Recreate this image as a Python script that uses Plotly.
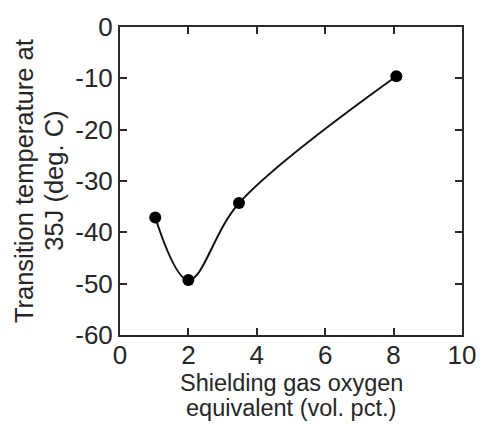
import plotly.graph_objects as go

oxygen_eq = [1.03, 2.0, 3.48, 8.08]
transition_temp = [-37.1, -49.3, -34.3, -9.6]
x_ticks = [0, 2, 4, 6, 8, 10]
y_ticks = [0, -10, -20, -30, -40, -50, -60]
x_title_lines = ["Shielding gas oxygen", "equivalent (vol. pct.)"]
y_title_lines = ["Transition temperature at", "35J (deg. C)"]

FONT = "Liberation Sans, Arial, sans-serif"
TXT = "#262626"
AX = "#2a2a2a"
FS_TICK = 26
FS_XTITLE = 23.5
FS_YTITLE = 25.5

fig = go.Figure()
fig.add_trace(go.Scatter(
    x=oxygen_eq, y=transition_temp, mode="lines+markers",
    line=dict(shape="spline", smoothing=1.0, color="#111111", width=2),
    marker=dict(size=12, color="#000000"),
    showlegend=False, cliponaxis=False,
))

axis_common = dict(
    showline=True, linecolor=AX, linewidth=2, mirror="ticks",
    ticks="inside", ticklen=7, tickwidth=2, tickcolor=AX,
    showgrid=False, zeroline=False,
    tickfont=dict(family=FONT, size=FS_TICK, color=TXT),
)
fig.update_xaxes(range=[0, 10], tickvals=x_ticks, ticktext=[str(v) for v in x_ticks],
                 ticklabelstandoff=-4, **axis_common)
fig.update_yaxes(range=[-60, 0], tickvals=y_ticks, ticktext=[str(v) for v in y_ticks],
                 ticklabelstandoff=0, **axis_common)

H = 424
plot_top, plot_bot = 19, 335
plot_l, plot_r = 120, 466

def yfrac(py):
    return (plot_bot - py) / (plot_bot - plot_top)

def xfrac(px):
    return (px - plot_l) / (plot_r - plot_l)

for t, py in zip(x_title_lines, [384, 410]):
    fig.add_annotation(text=t, xref="paper", yref="paper", x=0.5, y=yfrac(py),
                       xanchor="center", yanchor="middle", showarrow=False,
                       font=dict(family=FONT, size=FS_XTITLE, color=TXT))
for t, px in zip(y_title_lines, [23, 53]):
    fig.add_annotation(text=t, xref="paper", yref="paper", x=xfrac(px), y=yfrac(177),
                       xanchor="center", yanchor="middle", textangle=-90, showarrow=False,
                       font=dict(family=FONT, size=FS_YTITLE, color=TXT))

fig.update_layout(
    width=488, height=424,
    margin=dict(l=plot_l, r=488 - plot_r, t=plot_top, b=H - plot_bot),
    paper_bgcolor="white", plot_bgcolor="white",
)
fig.write_html("out.html")
